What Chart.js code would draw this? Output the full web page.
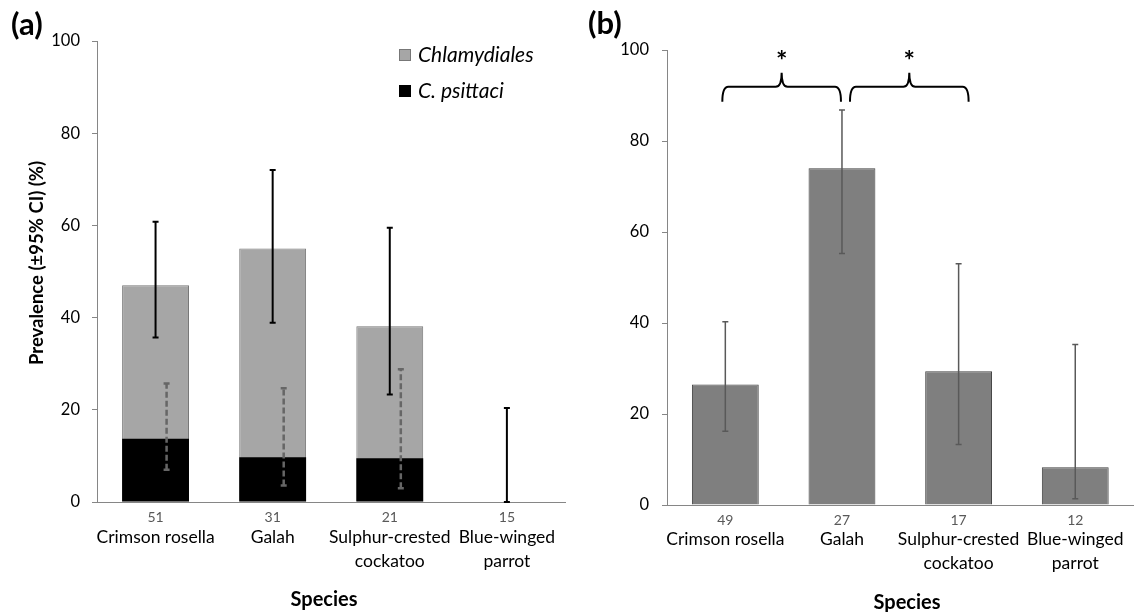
<!DOCTYPE html>
<html>
<head>
<meta charset="utf-8">
<script src="https://cdn.jsdelivr.net/npm/chart.js@4.4.1/dist/chart.umd.min.js"></script>
<style>
  body { margin: 0; background: #fff; width: 1147px; height: 612px; overflow: hidden; position: relative; }
  #wrapA { position: absolute; left: 0; top: 0; width: 580px; height: 612px; }
  #wrapB { position: absolute; left: 580px; top: 0; width: 567px; height: 612px; }
</style>
</head>
<body>
<div id="wrapA"><canvas id="chartA"></canvas></div>
<div id="wrapB"><canvas id="chartB"></canvas></div>
<script>
// categories
const species = [['Crimson rosella'], ['Galah'], ['Sulphur-crested', 'cockatoo'], ['Blue-winged', 'parrot']];
const yTicks = [0, 20, 40, 60, 80, 100];

// panel (a)
const sampleA = [51, 31, 21, 15];
const chlamydiales = [47, 55, 38.1, 0];
const chlamLow = [35.7, 38.9, 23.3, 0];
const chlamHigh = [60.8, 72, 59.5, 20.4];
const psittaci = [13.7, 9.7, 9.5, 0];
const psitLow = [7, 3.6, 3, null];
const psitHigh = [25.7, 24.7, 28.8, null];

// panel (b)
const sampleB = [49, 27, 17, 12];
const prevB = [26.5, 74, 29.4, 8.3];
const lowB = [16.2, 55.3, 13.3, 1.4];
const highB = [40.3, 86.8, 53, 35.3];

Chart.defaults.font.family = 'Lato';
Chart.defaults.color = '#000';

const axisGray = '#868686';

function drawErrorBars(chart, dsIndex, lows, highs, style) {
  const ctx = chart.ctx, ys = chart.scales.y;
  const meta = chart.getDatasetMeta(dsIndex);
  ctx.save();
  ctx.strokeStyle = style.color;
  ctx.lineWidth = style.width;
  meta.data.forEach((bar, i) => {
    if (lows[i] == null) return;
    const x = bar.x + (style.shift || 0) * bar.width;
    const y1 = ys.getPixelForValue(lows[i]);
    const y2 = ys.getPixelForValue(highs[i]);
    ctx.setLineDash(style.dash || []);
    ctx.beginPath();
    ctx.moveTo(x, y1);
    ctx.lineTo(x, y2);
    ctx.stroke();
    ctx.setLineDash([]);
    ctx.beginPath();
    ctx.moveTo(x - 3, y1); ctx.lineTo(x + 3, y1);
    ctx.moveTo(x - 3, y2); ctx.lineTo(x + 3, y2);
    ctx.stroke();
  });
  ctx.restore();
}

function drawCounts(chart, counts) {
  const ctx = chart.ctx, xs = chart.scales.x;
  ctx.save();
  ctx.font = '14px Lato';
  ctx.fillStyle = '#595959';
  ctx.textAlign = 'center';
  ctx.textBaseline = 'middle';
  counts.forEach((n, i) => ctx.fillText(String(n), xs.getPixelForTick(i), chart.chartArea.bottom + 15));
  ctx.restore();
}

function drawBrace(ctx, x1, x2, yLine, yEnd, yPeak) {
  const xm = (x1 + x2) / 2, r = 6;
  ctx.beginPath();
  ctx.moveTo(x1, yEnd);
  ctx.quadraticCurveTo(x1, yLine, x1 + r, yLine);
  ctx.lineTo(xm - r, yLine);
  ctx.quadraticCurveTo(xm, yLine, xm, yPeak);
  ctx.quadraticCurveTo(xm, yLine, xm + r, yLine);
  ctx.lineTo(x2 - r, yLine);
  ctx.quadraticCurveTo(x2, yLine, x2, yEnd);
  ctx.stroke();
}

const extrasA = {
  id: 'extrasA',
  afterDatasetsDraw(chart) {
    drawErrorBars(chart, 1, chlamLow, chlamHigh, {color: '#000', width: 2});
    drawErrorBars(chart, 1, psitLow, psitHigh, {color: '#666', width: 2.5, dash: [6, 3], shift: 0.165});
  },
  afterDraw(chart) {
    const ctx = chart.ctx;
    drawCounts(chart, sampleA);
    ctx.save();
    // panel label
    ctx.font = 'bold 31px Lato';
    ctx.textBaseline = 'middle';
    ctx.fillStyle = '#000';
    ctx.fillText('(a)', 11, 25);
    // legend
    ctx.fillStyle = '#a6a6a6'; ctx.strokeStyle = '#777'; ctx.lineWidth = 1;
    ctx.fillRect(399.5, 49.5, 11, 11); ctx.strokeRect(399.5, 49.5, 11, 11);
    ctx.fillStyle = '#000';
    ctx.fillRect(399, 85, 12, 12);
    ctx.font = 'italic 21px Lato';
    ctx.fillText('Chlamydiales', 418, 55);
    ctx.fillText('C. psittaci', 418, 91);
    // axis titles
    ctx.font = 'bold 20px Lato';
    ctx.textAlign = 'center';
    ctx.fillText('Species', 324, 600);
    ctx.translate(37, 263);
    ctx.rotate(-Math.PI / 2);
    ctx.font = 'bold 18.5px Lato';
    ctx.fillText('Prevalence (±95% CI) (%)', 0, 0);
    ctx.restore();
  }
};

const extrasB = {
  id: 'extrasB',
  afterDatasetsDraw(chart) {
    drawErrorBars(chart, 0, lowB, highB, {color: '#595959', width: 1.5});
  },
  afterDraw(chart) {
    const ctx = chart.ctx, xs = chart.scales.x, ys = chart.scales.y;
    drawCounts(chart, sampleB);
    ctx.save();
    ctx.font = 'bold 31px Lato';
    ctx.textBaseline = 'middle';
    ctx.fillStyle = '#000';
    ctx.fillText('(b)', 8, 24);
    // significance braces
    ctx.strokeStyle = '#000';
    ctx.lineWidth = 2;
    const yLine = ys.getPixelForValue(91.9), yEnd = ys.getPixelForValue(88.6), yPeak = ys.getPixelForValue(95);
    const braces = [
      [xs.getPixelForValue(0) - 3, xs.getPixelForValue(1) - 1],
      [xs.getPixelForValue(1) + 8, xs.getPixelForValue(2) + 10]
    ];
    ctx.font = 'bold 27px Lato';
    ctx.textAlign = 'center';
    braces.forEach(([x1, x2]) => {
      drawBrace(ctx, x1, x2, yLine, yEnd, yPeak);
      ctx.fillText('*', (x1 + x2) / 2, ys.getPixelForValue(97.6));
    });
    ctx.font = 'bold 20px Lato';
    ctx.fillText('Species', 327, 603);
    ctx.restore();
  }
};

function axes(yWidth, xHeight, labelPad, yPad) {
  return {
    x: {
      offset: true,
      afterFit: s => { s.height = xHeight; },
      grid: {display: false, drawTicks: false},
      border: {color: axisGray, width: 1},
      ticks: {font: {size: 17.5, lineHeight: 1.37}, color: '#000', padding: labelPad, maxRotation: 0, autoSkip: false}
    },
    y: {
      min: 0, max: 100,
      afterFit: s => { s.width = yWidth; },
      afterBuildTicks: s => { s.ticks = yTicks.map(v => ({value: v})); },
      grid: {drawOnChartArea: false, drawTicks: true, tickLength: 5, color: axisGray},
      border: {color: axisGray, width: 1},
      ticks: {font: {size: 16.5}, color: '#000', padding: yPad}
    }
  };
}

new Chart(document.getElementById('chartA'), {
  type: 'bar',
  data: {
    labels: species,
    datasets: [
      {label: 'C. psittaci', data: psittaci, backgroundColor: '#000', borderColor: '#000', borderWidth: 0, grouped: false, barPercentage: 0.571, categoryPercentage: 1},
      {label: 'Chlamydiales', data: chlamydiales, backgroundColor: '#a6a6a6', borderColor: '#777', borderWidth: 1, grouped: false, barPercentage: 0.571, categoryPercentage: 1}
    ]
  },
  options: {
    responsive: true, maintainAspectRatio: false, animation: false,
    layout: {padding: {left: 0, right: 11, top: 41, bottom: 0}},
    scales: axes(97, 110, 23.5, 12),
    plugins: {legend: {display: false}, tooltip: {enabled: false}}
  },
  plugins: [extrasA]
});

new Chart(document.getElementById('chartB'), {
  type: 'bar',
  data: {
    labels: species,
    datasets: [
      {label: 'Prevalence', data: prevB, backgroundColor: '#7f7f7f', borderColor: '#404040', borderWidth: 1, barPercentage: 0.573, categoryPercentage: 1}
    ]
  },
  options: {
    responsive: true, maintainAspectRatio: false, animation: false,
    layout: {padding: {left: 0, right: 8, top: 50, bottom: 0}},
    scales: axes(87, 107, 22.5, 13),
    plugins: {legend: {display: false}, tooltip: {enabled: false}}
  },
  plugins: [extrasB]
});
</script>
</body>
</html>
